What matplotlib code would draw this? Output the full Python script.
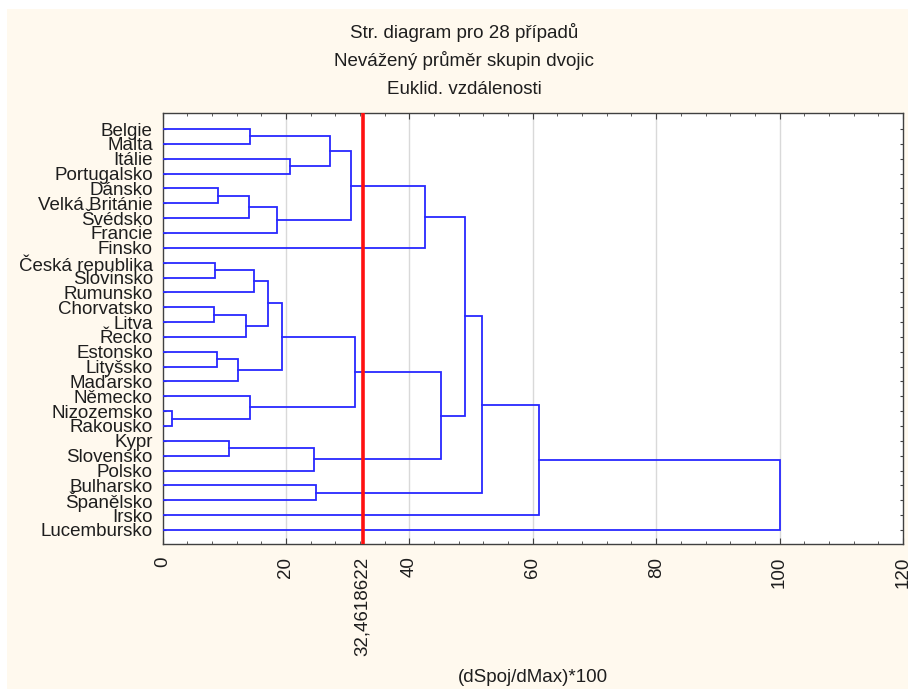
import matplotlib
matplotlib.use('Agg')
import matplotlib.pyplot as plt
from matplotlib.patches import Rectangle
from matplotlib.ticker import MultipleLocator

plt.rcParams.update({'font.family': ['Liberation Sans', 'DejaVu Sans'],
                     'font.size': 13.5})

# leaves, top to bottom
countries = ['Belgie', 'Malta', 'Itálie', 'Portugalsko', 'Dánsko',
             'Velká Británie', 'Švédsko', 'Francie', 'Finsko',
             'Česká republika', 'Slovinsko', 'Rumunsko', 'Chorvatsko', 'Litva',
             'Řecko', 'Estonsko', 'Lityšsko', 'Maďarsko', 'Německo',
             'Nizozemsko', 'Rakousko', 'Kypr', 'Slovensko', 'Polsko',
             'Bulharsko', 'Španělsko', 'Irsko', 'Lucembursko']

# merges: node id = 28 + index; children refer to leaves or earlier nodes
merge_left = [0, 2, 28, 4, 31, 32, 30, 34, 9, 36, 12, 38, 37, 15, 41, 40,
              19, 18, 43, 21, 47, 46, 35, 24, 50, 52, 53]
merge_right = [1, 3, 29, 5, 6, 7, 33, 8, 10, 11, 13, 14, 39, 16, 17, 42,
               20, 44, 45, 22, 23, 48, 49, 25, 51, 26, 27]
merge_height = [14.1, 20.6, 27.1, 9.0, 14.0, 18.6, 30.6, 42.5, 8.55, 14.8,
                8.3, 13.6, 17.1, 8.8, 12.3, 19.4, 1.5, 14.2, 31.2, 10.7,
                24.6, 45.2, 49.1, 24.8, 51.8, 61.0, 100.0]

cut_value = 32.4618622
x_major = [0, 20, 40, 60, 80, 100, 120]
grid_at = [20, 40, 60, 80, 100]

titles = ['Str. diagram pro 28 případů', 'Nevážený průměr skupin dvojic',
          'Euklid. vzdálenosti']

W, H = 908, 689
fig = plt.figure(figsize=(W / 100, H / 100), dpi=100, facecolor='white')
fig.patches.append(Rectangle((7 / W, 0), 1, 1 - 9 / H, transform=fig.transFigure,
                             facecolor='#fff9ee', edgecolor='none', zorder=-5))
ax = fig.add_axes([162.5 / W, 1 - 544 / H, (903 - 162.5) / W, (544 - 113) / H])
ax.set_facecolor('white')

n = len(countries)
xs = [0.0] * n
ys = [float(i) for i in range(n)]
for a, b, h in zip(merge_left, merge_right, merge_height):
    ax.plot([xs[a], h, h, xs[b]], [ys[a], ys[a], ys[b], ys[b]],
            color='#2828ff', lw=1.3, zorder=3, solid_joinstyle='miter')
    xs.append(h)
    ys.append((ys[a] + ys[b]) / 2)

for g in grid_at:
    ax.axvline(g, color='#d9d9d9', lw=1, zorder=1)
ax.axvline(cut_value, color='#ff1010', lw=2.6, zorder=4)

ax.set_xlim(0, 120)
ax.set_ylim(n - 1 + 0.95, -1.08)

ticks = sorted(x_major + [cut_value])
ax.set_xticks(ticks)
ax.set_xticklabels([f'{t:.7f}'.replace('.', ',') if t == cut_value else str(t)
                    for t in ticks], rotation=90)
ax.xaxis.set_minor_locator(MultipleLocator(4))
ax.tick_params(axis='x', which='major', direction='in', length=4, top=True,
               pad=9, colors='#404040', labelcolor='#1e1e1e')
ax.tick_params(axis='x', which='minor', direction='in', length=2.2, top=True,
               colors='#404040')
ax.set_yticks(range(n))
ax.set_yticklabels(countries)
ax.tick_params(axis='y', direction='in', length=2.5, right=True, pad=7,
               colors='#404040', labelcolor='#1e1e1e')
for s in ax.spines.values():
    s.set_color('#404040')
    s.set_linewidth(1)

for i, t in enumerate(titles):
    fig.text(464 / W, 1 - (33 + 28 * i) / H, t, ha='center', va='center',
             color='#1e1e1e')
fig.text((162.5 + 903) / 2 / W, 1 - 678 / H, '(dSpoj/dMax)*100', ha='center',
         va='center', color='#1e1e1e')

fig.savefig('out.png', dpi=100, facecolor=fig.get_facecolor())
